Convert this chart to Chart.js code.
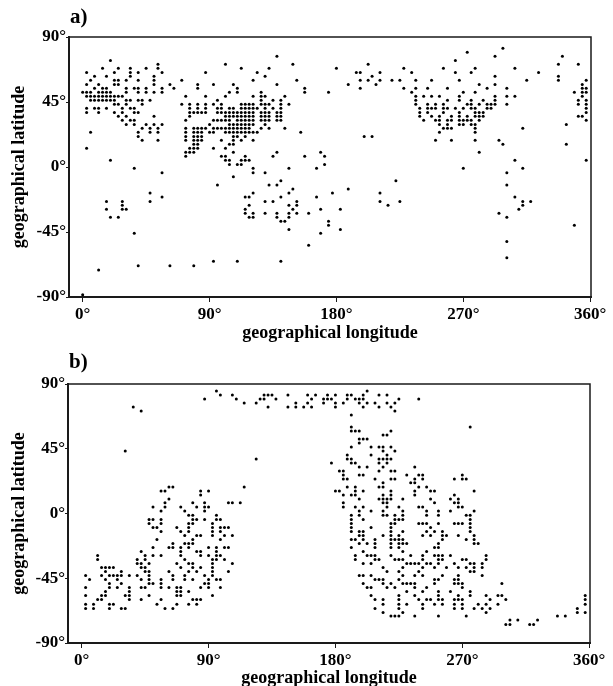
<!DOCTYPE html>
<html>
<head>
<meta charset="utf-8">
<title>geographical distribution</title>
<script src="https://cdn.jsdelivr.net/npm/chart.js@4/dist/chart.umd.min.js"></script>
<style>
	html, body { margin: 0; padding: 0; background: #fff; overflow: hidden; }
	canvas { position: absolute; left: 0; }
</style>
</head>
<body>
<canvas id="chartA" width="613" height="344" style="top:0"></canvas>
<canvas id="chartB" width="613" height="349" style="top:340px"></canvas>
<script>
////////////data////////////
var lonTicks = [0, 90, 180, 270, 360];
var latTicks = [-90, -45, 0, 45, 90];
var xTitle = 'geographical longitude';
var yTitle = 'geographical latitude';

//panel a: one latitude per row, the longitudes of the dots on that row
var latsA = [82.2, 79.4, 76.6, 73.8, 71.1, 68.3, 65.5, 62.8, 60, 57.2, 54.5, 51.7, 48.9, 46.2, 43.4, 40.6, 37.8, 35.1, 32.3, 29.5, 26.8, 24, 21.2, 18.5, 15.7, 12.9, 10.2, 7.4, 4.6, 1.8, -0.9, -3.9, -6.7, -9.5, -12.5, -15.2, -18, -20.8, -23.8, -26.5, -29.3, -32.1, -34.8, -37.6, -40.4, -43.2, -45.9, -51.5, -54.2, -62.8, -65.3, -68.3, -71.3, -88.4];
var lonsA = [
	[298.1],
	[272.8],
	[137.8, 292.5, 340.3],
	[19.7, 264.4],
	[53.4, 101.3, 149.1, 202.5, 337.5, 351.6],
	[14.1, 25.3, 33.8, 45, 53.4, 112.5, 132.2, 180, 227.8, 255.9, 278.4, 306.6],
	[2.8, 22.5, 33.8, 39.4, 56.3, 87.2, 123.8, 194.1, 196.9, 210.9, 233.4, 264.4, 275.6, 323.4],
	[8.4, 16.9, 33.8, 50.6, 129.4, 205.3, 292.5, 337.5],
	[5.6, 22.5, 25.3, 30.9, 39.4, 50.6, 70.3, 120.9, 151.9, 196.9, 202.5, 210.9, 219.4, 225, 236.3, 247.5, 267.2, 315, 337.5, 357.2],
	[2.8, 11.3, 22.5, 25.3, 50.6, 61.9, 81.6, 92.8, 106.9, 137.8, 188.4, 208.1, 281.3, 292.5, 354.4],
	[8.4, 14.1, 16.9, 30.9, 36.6, 39.4, 45, 56.3, 64.7, 81.6, 109.7, 157.5, 196.9, 227.8, 236.3, 244.7, 258.8, 286.9, 300.9, 354.4, 357.2],
	[0, 2.8, 5.6, 11.3, 14.1, 16.9, 19.7, 30.9, 39.4, 45, 50.6, 56.3, 104.1, 109.7, 126.6, 157.5, 174.4, 233.4, 270, 278.4, 348.8, 354.4, 357.2],
	[2.8, 5.6, 8.4, 11.3, 14.1, 16.9, 19.7, 22.5, 25.3, 28.1, 73.1, 87.2, 101.3, 120.9, 126.6, 129.4, 143.4, 236.3, 241.9, 247.5, 253.1, 267.2, 292.5, 300.9, 306.6, 354.4],
	[5.6, 8.4, 11.3, 14.1, 16.9, 19.7, 22.5, 30.9, 33.8, 39.4, 42.2, 47.8, 95.6, 126.6, 135, 140.6, 236.3, 258.8, 267.2, 275.6, 284.1, 292.5, 351.6, 357.2],
	[22.5, 25.3, 30.9, 42.2, 70.3, 75.9, 81.6, 87.2, 92.8, 98.4, 112.5, 115.3, 118.1, 120.9, 126.6, 129.4, 132.2, 140.6, 146.3, 236.3, 244.7, 250.3, 255.9, 272.8, 275.6, 281.3, 286.9, 289.7, 292.5, 300.9, 351.6, 357.2],
	[2.8, 8.4, 11.3, 16.9, 28.1, 33.8, 36.6, 75.9, 81.6, 87.2, 95.6, 98.4, 104.1, 106.9, 112.5, 115.3, 118.1, 120.9, 123.8, 129.4, 135, 140.6, 239.1, 244.7, 247.5, 250.3, 255.9, 258.8, 264.4, 270, 275.6, 278.4, 286.9, 289.7, 357.2],
	[2.8, 11.3, 22.5, 28.1, 36.6, 39.4, 75.9, 78.8, 81.6, 84.4, 87.2, 95.6, 98.4, 101.3, 104.1, 106.9, 109.7, 112.5, 115.3, 118.1, 120.9, 126.6, 129.4, 132.2, 137.8, 140.6, 239.1, 244.7, 255.9, 267.2, 278.4, 281.3, 284.1, 357.2],
	[25.3, 30.9, 50.6, 75.9, 101.3, 104.1, 106.9, 109.7, 112.5, 115.3, 118.1, 120.9, 126.6, 129.4, 132.2, 137.8, 140.6, 239.1, 247.5, 253.1, 261.6, 267.2, 272.8, 278.4, 281.3, 284.1, 351.6, 354.4],
	[28.1, 33.8, 36.6, 73.1, 92.8, 95.6, 98.4, 101.3, 104.1, 109.7, 112.5, 115.3, 118.1, 120.9, 126.6, 129.4, 132.2, 137.8, 140.6, 241.9, 250.3, 253.1, 258.8, 261.6, 267.2, 270, 272.8, 275.6, 281.3, 357.2],
	[30.9, 36.6, 45, 50.6, 56.3, 90, 104.1, 106.9, 109.7, 112.5, 115.3, 118.1, 120.9, 129.4, 253.1, 258.8, 267.2, 270, 275.6, 278.4, 343.1],
	[42.2, 47.8, 53.4, 73.1, 78.8, 81.6, 84.4, 87.2, 92.8, 95.6, 98.4, 101.3, 104.1, 106.9, 109.7, 112.5, 115.3, 118.1, 126.6, 132.2, 143.4, 255.9, 258.8, 261.6, 278.4, 312.2],
	[5.6, 39.4, 47.8, 53.4, 73.1, 78.8, 81.6, 84.4, 90, 92.8, 101.3, 104.1, 106.9, 109.7, 112.5, 115.3, 118.1, 120.9, 123.8, 154.7, 253.1, 278.4],
	[39.4, 73.1, 78.8, 81.6, 84.4, 106.9, 109.7, 115.3, 199.7, 205.3],
	[42.2, 53.4, 73.1, 78.8, 81.6, 84.4, 98.4, 106.9, 112.5, 120.9, 250.3, 261.6, 278.4, 295.3],
	[78.8, 81.6, 104.1, 106.9, 298.1, 343.1],
	[2.8, 75.9, 78.8, 81.6, 92.8, 101.3],
	[73.1, 75.9, 78.8, 106.9, 137.8, 168.8, 281.3],
	[73.1, 98.4, 101.3, 115.3, 135, 157.5, 171.6],
	[19.7, 101.3, 104.1, 112.5, 115.3, 118.1, 306.6, 357.2],
	[104.1, 109.7, 112.5, 171.6],
	[36.6, 120.9, 146.3, 165.9, 270, 312.2],
	[56.3, 120.9, 129.4, 300.9],
	[106.9],
	[140.6, 222.2],
	[95.6, 132.2, 137.8, 300.9],
	[149.1, 188.4],
	[47.8, 120.9, 146.3, 177.2, 210.9],
	[56.3, 115.3, 118.1, 140.6, 165.9, 306.6],
	[16.9, 28.1, 47.8, 129.4, 135, 151.9, 210.9, 225, 312.2, 317.8],
	[28.1, 118.1, 146.3, 151.9, 216.6, 312.2],
	[16.9, 28.1, 30.9, 115.3, 149.1, 168.8, 182.8, 309.4],
	[115.3, 120.9, 129.4, 137.8, 146.3, 151.9, 160.3, 295.3],
	[19.7, 25.3, 118.1, 120.9, 137.8, 146.3, 300.9],
	[140.6, 143.4, 174.4],
	[174.4, 348.8],
	[146.3, 182.8],
	[36.6, 168.8],
	[300.9],
	[160.3],
	[300.9],
	[92.8, 109.7, 140.6],
	[39.4, 61.9, 78.8],
	[11.3],
	[0]
];

//panel b
var latsB = [85.1, 82.4, 79.6, 76.8, 74, 71.3, 68.5, 60.1, 57.4, 54.6, 51.8, 49, 46.3, 43.5, 40.7, 37.9, 35.1, 32.4, 29.6, 26.8, 24, 21.3, 18.5, 15.7, 12.9, 10.1, 7.4, 4.6, 1.8, -1.2, -4.2, -7, -9.8, -12.5, -15.3, -18.1, -20.9, -23.7, -26.4, -29.2, -32, -34.8, -37.5, -40.3, -43.1, -45.9, -48.7, -51.4, -54.2, -57, -59.8, -63, -66, -68.8, -71.3, -74.1, -77.1];
var lonsB = [
	[95.6, 202.5],
	[98.4, 106.9, 129.4, 132.2, 135, 146.3, 160.3, 165.9, 174.4, 180, 188.4, 191.3, 199.7, 210.9, 216.6],
	[87.2, 109.7, 126.6, 129.4, 137.8, 163.1, 171.6, 174.4, 177.2, 188.4, 194.1, 196.9, 199.7, 225, 239.1],
	[115.3, 123.8, 151.9, 160.3, 171.6, 180, 185.6, 196.9, 202.5, 208.1, 216.6, 222.2],
	[36.6, 132.2, 146.3, 151.9, 157.5, 163.1, 180, 199.7, 210.9, 219.4],
	[42.2, 222.2],
	[191.3],
	[191.3, 275.6],
	[191.3, 194.1, 196.9, 219.4],
	[213.8, 216.6],
	[196.9, 199.7, 202.5],
	[196.9],
	[191.3, 205.3, 210.9, 213.8, 219.4],
	[30.9, 213.8, 222.2],
	[188.4, 205.3, 216.6],
	[123.8, 188.4, 191.3, 210.9, 213.8, 216.6, 219.4],
	[177.2, 191.3, 194.1, 210.9, 216.6],
	[196.9, 202.5, 213.8, 236.3],
	[182.8, 185.6, 210.9, 219.4, 222.2],
	[185.6, 196.9, 199.7, 230.6, 239.1, 241.9, 270],
	[185.6, 188.4, 208.1, 219.4, 222.2, 236.3, 241.9, 264.4, 270, 272.8],
	[213.8, 233.4, 236.3],
	[61.9, 64.7, 115.3, 188.4, 194.1, 210.9, 213.8, 239.1, 244.7],
	[56.3, 59.1, 84.4, 90, 180, 182.8, 194.1, 199.7, 219.4, 236.3, 247.5, 250.3, 278.4],
	[84.4, 185.6, 191.3, 194.1, 213.8, 219.4, 236.3, 264.4],
	[61.9, 196.9, 210.9, 213.8, 216.6, 219.4, 227.8, 247.5, 261.6, 267.2],
	[59.1, 78.8, 87.2, 104.1, 106.9, 112.5, 185.6, 213.8, 216.6, 250.3, 264.4, 267.2],
	[50.6, 59.1, 70.3, 81.6, 87.2, 90, 185.6, 194.1, 199.7, 216.6, 225, 239.1, 241.9, 267.2, 270],
	[56.3, 73.1, 87.2, 196.9, 205.3, 213.8, 227.8, 244.7, 253.1, 261.6, 278.4],
	[75.9, 78.8, 95.6, 191.3, 196.9, 213.8, 216.6, 222.2, 227.8, 244.7, 253.1, 272.8, 275.6],
	[47.8, 50.6, 56.3, 78.8, 81.6, 87.2, 95.6, 98.4, 191.3, 199.7, 222.2, 225, 227.8, 275.6],
	[47.8, 56.3, 75.9, 78.8, 92.8, 191.3, 219.4, 222.2, 239.1, 241.9, 244.7, 253.1, 264.4, 267.2, 270, 275.6],
	[50.6, 53.4, 67.5, 75.9, 92.8, 98.4, 101.3, 104.1, 191.3, 205.3, 219.4, 247.5, 275.6],
	[56.3, 70.3, 75.9, 92.8, 98.4, 191.3, 196.9, 199.7, 219.4, 227.8, 244.7, 250.3, 255.9, 275.6],
	[73.1, 81.6, 84.4, 92.8, 101.3, 106.9, 196.9, 199.7, 213.8, 219.4, 225, 241.9, 247.5, 255.9, 258.8, 267.2, 278.4],
	[53.4, 78.8, 98.4, 191.3, 194.1, 199.7, 208.1, 219.4, 222.2, 225, 227.8, 255.9, 272.8, 278.4],
	[64.7, 73.1, 75.9, 78.8, 196.9, 202.5, 208.1, 219.4, 225, 227.8, 230.6, 253.1, 278.4, 281.3],
	[50.6, 61.9, 64.7, 70.3, 75.9, 90, 95.6, 101.3, 104.1, 191.3, 208.1, 219.4, 225, 250.3, 253.1],
	[42.2, 70.3, 81.6, 84.4, 95.6, 199.7, 227.8, 244.7],
	[11.3, 45, 50.6, 56.3, 70.3, 84.4, 90, 95.6, 98.4, 194.1, 202.5, 205.3, 208.1, 219.4, 233.4, 241.9, 250.3, 253.1, 255.9, 261.6, 286.9],
	[11.3, 39.4, 45, 73.1, 92.8, 95.6, 101.3, 194.1, 208.1, 210.9, 222.2, 225, 227.8, 241.9, 253.1, 255.9, 270, 272.8, 286.9],
	[39.4, 42.2, 47.8, 67.5, 75.9, 78.8, 92.8, 106.9, 199.7, 205.3, 230.6, 233.4, 236.3, 239.1, 244.7, 247.5, 253.1, 264.4, 275.6, 278.4, 284.1],
	[14.1, 16.9, 19.7, 22.5, 42.2, 45, 70.3, 78.8, 84.4, 92.8, 213.8, 227.8, 241.9, 250.3, 258.8, 267.2, 272.8, 278.4, 284.1],
	[16.9, 28.1, 45, 47.8, 61.9, 75.9, 81.6, 92.8, 104.1, 216.6, 225, 239.1, 275.6, 278.4],
	[2.8, 14.1, 19.7, 22.5, 25.3, 28.1, 33.8, 39.4, 47.8, 64.7, 73.1, 87.2, 92.8, 196.9, 199.7, 205.3, 227.8, 236.3, 241.9, 255.9, 267.2, 284.1],
	[5.6, 16.9, 25.3, 42.2, 47.8, 56.3, 64.7, 73.1, 78.8, 90, 95.6, 98.4, 208.1, 210.9, 213.8, 225, 250.3, 253.1, 264.4, 267.2],
	[19.7, 28.1, 47.8, 50.6, 56.3, 87.2, 90, 199.7, 213.8, 219.4, 227.8, 230.6, 233.4, 236.3, 250.3, 264.4, 267.2, 270, 298.1],
	[2.8, 19.7, 25.3, 33.8, 42.2, 45, 56.3, 61.9, 67.5, 70.3, 84.4, 90, 98.4, 202.5, 205.3, 216.6, 222.2, 236.3, 244.7, 270],
	[16.9, 33.8, 67.5, 70.3, 75.9, 230.6, 241.9, 253.1, 261.6, 275.6],
	[2.8, 14.1, 16.9, 30.9, 33.8, 47.8, 67.5, 70.3, 92.8, 205.3, 225, 236.3, 253.1, 267.2, 275.6, 286.9, 295.3, 298.1, 357.2],
	[11.3, 14.1, 33.8, 42.2, 56.3, 78.8, 81.6, 84.4, 208.1, 213.8, 225, 239.1, 244.7, 247.5, 253.1, 255.9, 264.4, 267.2, 270, 289.7, 300.9, 357.2],
	[2.8, 8.4, 19.7, 22.5, 53.4, 67.5, 75.9, 81.6, 213.8, 225, 230.6, 241.9, 250.3, 255.9, 264.4, 270, 281.3, 286.9, 295.3, 357.2],
	[2.8, 8.4, 19.7, 28.1, 30.9, 59.1, 64.7, 208.1, 225, 241.9, 264.4, 270, 278.4, 284.1, 289.7, 351.6],
	[213.8, 227.8, 286.9, 351.6, 357.2],
	[219.4, 222.2, 225, 236.3, 253.1, 272.8, 337.5, 343.1],
	[303.8, 309.4, 323.4],
	[300.9, 303.8, 317.8, 320.6]
];

////////////chart////////////
var ink = '#1a1a1a';
var serif = '"Liberation Serif", "Times New Roman", serif';

//turn the rows into {x, y} points
function toPoints(lats, lons) {
	var points = [];
	lats.forEach(function(lat, i) {
		lons[i].forEach(function(lon) {
			points.push({x: lon, y: lat});
		});
	});
	return points;
}

function degree(value) {
	return value + '\u00B0';
}

function makeChart(id, label, lats, lons, box) {
	//top and right edge of the frame, and the panel letter
	var frame = {
		id: 'frame',
		afterDraw: function(chart) {
			var a = chart.chartArea, c = chart.ctx;
			c.save();
			c.strokeStyle = ink;
			c.lineWidth = 1.5;
			c.beginPath();
			c.moveTo(a.left, a.top);
			c.lineTo(a.right, a.top);
			c.lineTo(a.right, a.bottom);
			c.stroke();
			c.fillStyle = '#000';
			c.font = 'bold 21px ' + serif;
			c.textBaseline = 'alphabetic';
			c.fillText(label, box.labelX, box.labelY);
			c.restore();
		}
	};

	return new Chart(document.getElementById(id), {
		type: 'scatter',
		data: {
			datasets: [{
				data: toPoints(lats, lons),
				pointRadius: 1.5,
				pointHoverRadius: 1.5,
				pointBackgroundColor: '#000',
				pointBorderWidth: 0
			}]
		},
		options: {
			responsive: false,
			animation: false,
			layout: { padding: { left: 0, top: box.top, right: box.right, bottom: 0 } },
			plugins: { legend: { display: false }, tooltip: { enabled: false } },
			scales: {
				x: {
					type: 'linear',
					min: box.xMin,
					max: 360.6,
					afterBuildTicks: function(scale) {
						scale.ticks = lonTicks.map(function(v) { return {value: v}; });
					},
					afterFit: function(scale) { scale.height = box.xHeight; },
					grid: { drawOnChartArea: false, color: ink, tickLength: 5 },
					border: { color: ink, width: 2 },
					ticks: {
						color: '#000',
						autoSkip: false,
						maxRotation: 0,
						padding: 2,
						font: { family: serif, size: 17, weight: 'bold' },
						callback: degree
					},
					title: {
						display: true,
						text: xTitle,
						color: '#000',
						padding: 0,
						font: { family: serif, size: 18, weight: 'bold' }
					}
				},
				y: {
					type: 'linear',
					min: -90,
					max: 90,
					afterBuildTicks: function(scale) {
						scale.ticks = latTicks.map(function(v) { return {value: v}; });
					},
					afterFit: function(scale) { scale.width = box.left; },
					grid: { drawOnChartArea: false, color: ink, tickLength: 3 },
					border: { color: ink, width: 2 },
					ticks: {
						color: '#000',
						autoSkip: false,
						padding: 0,
						font: { family: serif, size: 17, weight: 'bold' },
						callback: degree
					},
					title: {
						display: true,
						text: yTitle,
						color: '#000',
						padding: { top: 9, bottom: 0 },
						font: { family: serif, size: 18, weight: 'bold' }
					}
				}
			}
		},
		plugins: [frame]
	});
}

makeChart('chartA', 'a)', latsA, lonsA, {left: 69, right: 22, top: 37, xHeight: 47, xMin: -9.7, labelX: 70, labelY: 23});
makeChart('chartB', 'b)', latsB, lonsB, {left: 68, right: 23, top: 44, xHeight: 46, xMin: -9.7, labelX: 69, labelY: 28});
</script>
</body>
</html>
